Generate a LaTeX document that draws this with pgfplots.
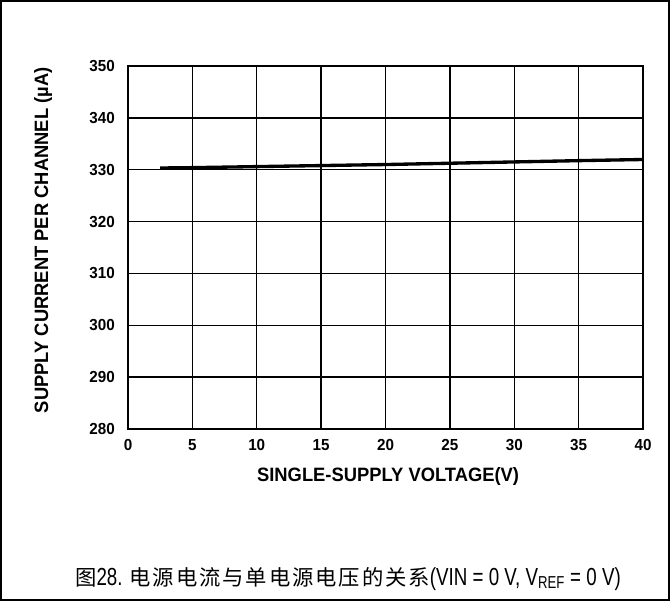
\documentclass[border=0pt]{standalone}
\usepackage{pgfplots}
\pgfplotsset{compat=1.18}
\usepackage{fontspec}
\setmainfont{Liberation Sans}
\newfontfamily\narrow[FakeStretch=0.95]{Liberation Sans}
\newfontfamily\capnarrow[FakeStretch=0.76]{Liberation Sans}
\newfontfamily\cjk[LetterSpace=9]{Noto Sans CJK SC}

\begin{document}
\begin{tikzpicture}
% outer frame (1px = 0.75pt, origin at top left)
\draw[line width=1.5pt] (0.75pt,-0.75pt) rectangle (501.75pt,-450pt);
\begin{axis}[
    at={(96pt,-49.5pt)}, anchor=north west,
    scale only axis,
    width=386.25pt, height=272.25pt,
    xmin=0, xmax=40, ymin=280, ymax=350,
    xtick={0,5,...,40}, ytick={280,290,...,350},
    major tick length=0pt,
    grid=major,
    major grid style={black, line width=1pt},
    axis line style={black, line width=1.7pt},
    ticklabel style={font=\narrow\bfseries\fontsize{12}{14}\selectfont, inner sep=0pt},
    /pgf/number format/assume math mode=true,
    xticklabel style={anchor=base, yshift=-15.75pt},
    yticklabel style={anchor=east, xshift=-9.75pt},
    xlabel={SINGLE-SUPPLY VOLTAGE(V)},
    ylabel={SUPPLY CURRENT PER CHANNEL (\textmu A)},
    label style={font=\narrow\bfseries\fontsize{14.5}{16}\selectfont, inner sep=0pt},
    xlabel style={at={(axis description cs:0.505,-0.1433)}, anchor=base},
    ylabel style={at={(axis description cs:-0.1553,0.52)}, anchor=base},
]
\addplot[black, line width=2.5pt] coordinates {
    (2.5,330.33) (5,330.4) (10,330.6) (15,330.8) (20,331.0)
    (25,331.25) (30,331.5) (35,331.75) (40,331.97)
};
\end{axis}
\node[anchor=base, inner sep=0pt] at (261pt,-438.75pt) {\cjk\fontsize{16}{18}\selectfont 图\capnarrow\fontsize{18.5}{20}\selectfont 28. \cjk\fontsize{16}{18}\selectfont 电源电流与单电源电压的关系\capnarrow\fontsize{18.5}{20}\selectfont (VIN = 0 V, V\textsubscript{REF} = 0 V)};
\end{tikzpicture}
\end{document}
